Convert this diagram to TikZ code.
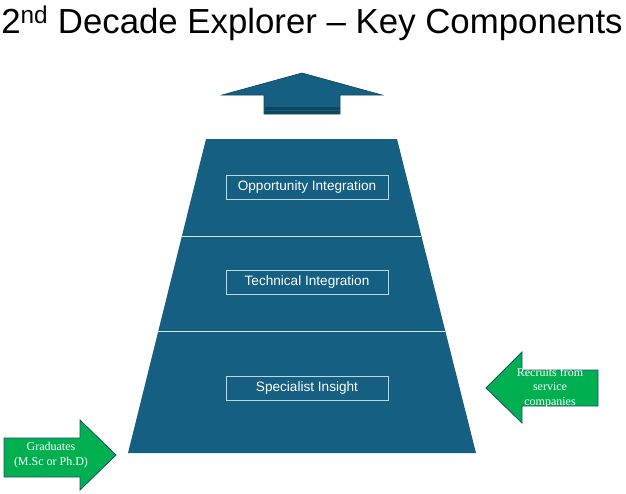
\documentclass[tikz,border=0pt]{standalone}
\usepackage{fontspec}
\setmainfont{Liberation Serif}
\setsansfont{Liberation Sans}
\usetikzlibrary{positioning}

\definecolor{tealblue}{HTML}{156082}
\definecolor{tealdark}{HTML}{0E4660}
\definecolor{arrowgreen}{HTML}{00B050}
\definecolor{edgeblue}{HTML}{1F4E6B}

\begin{document}
\begin{tikzpicture}[x=1pt, y=-1pt,
    layerbox/.style={rectangle, draw=white!75!tealblue, line width=0.8pt, fill=tealblue, minimum width=162pt, minimum height=24pt, inner sep=0pt, font=\sffamily\fontsize{13.6}{15}\selectfont, text=white},
    divider/.style={draw=white!85!tealblue, line width=1pt},
    greenarrow/.style={fill=arrowgreen, draw=edgeblue, line width=0.8pt},
    arrowtxt/.style={font=\rmfamily\fontsize{12}{14.5}\selectfont, text=white, align=center, inner sep=0pt},
]
\useasboundingbox (0,0) rectangle (626,493);

% ========== TITLE ==========
\node[anchor=base, font=\sffamily\fontsize{34.8}{40}\selectfont, inner sep=0pt] (title) at (312,33)
    {2\textsuperscript{nd} Decade Explorer -- Key Components};

% ========== UP ARROW ==========
\draw[fill=tealblue, draw=tealdark, line width=0.6pt]
    (302,73) -- (382,95) -- (340,95) -- (340,114) -- (264,114) -- (264,95) -- (222,95) -- cycle;
\fill[tealdark] (264.5,107) rectangle (339.5,113.5);
\draw[tealblue, line width=0.8pt] (264.5,110) -- (339.5,110);

% ========== PYRAMID ==========
\fill[tealblue] (206,139) -- (397,139) -- (476,453) -- (128,453) -- cycle;
\draw[divider] (182,236) -- (421,236);
\draw[divider] (158,331) -- (445,331);

\node[layerbox] at (307,187) (opp) {Opportunity Integration};
\node[layerbox] at (307,282) (tech) {Technical Integration};
\node[layerbox] at (307,388) (spec) {Specialist Insight};

% ========== INPUT ARROWS ==========
% graduates (enters bottom left)
\draw[greenarrow] (4,438) -- (80,438) -- (80,420) -- (116,455) -- (80,490) -- (80,477) -- (4,477) -- cycle;
\node[arrowtxt] at (51,455) (grad) {Graduates\\(M.Sc or Ph.D)};

% recruits (enters right side)
\draw[greenarrow] (598,370) -- (522,370) -- (522,352) -- (486,388) -- (522,423) -- (522,406) -- (598,406) -- cycle;
\node[arrowtxt] at (550,388) (recr) {Recruits from\\service\\companies};

\end{tikzpicture}
\end{document}
